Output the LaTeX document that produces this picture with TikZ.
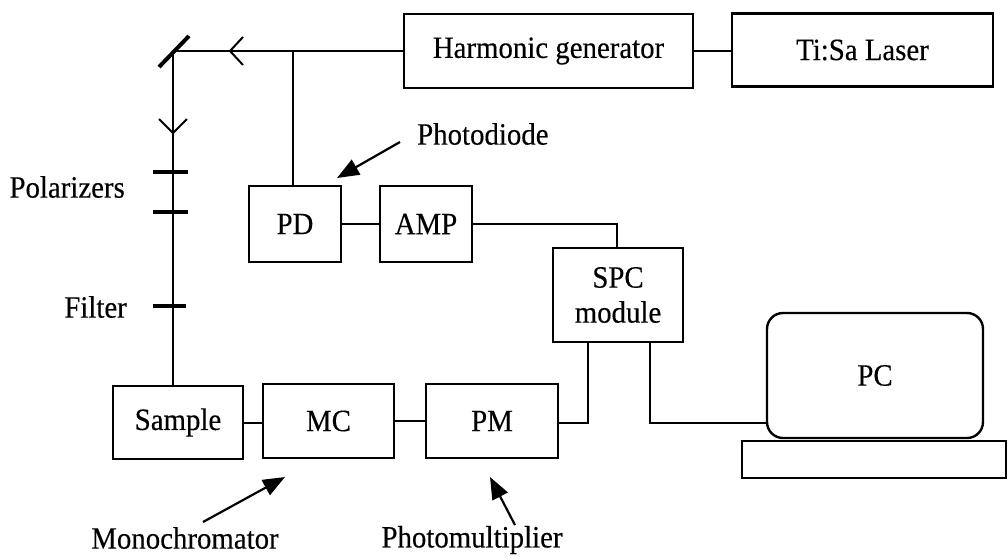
\documentclass[tikz,border=0pt]{standalone}
\usepackage{fontspec}
\setmainfont{Liberation Serif}[FakeStretch=0.93,FakeBold=0.3]
\usetikzlibrary{arrows.meta,calc}
\newcommand\dfont{\fontsize{31}{35}\selectfont}
\begin{document}
\begin{tikzpicture}[x=1pt,y=-1pt,
  box/.style={draw,line width=2.4pt,inner sep=0pt,font=\dfont,align=center},
  wire/.style={line width=2pt},
  bar/.style={line width=4pt},
  pointer/.style={line width=2.2pt,-{Triangle[length=22pt,width=17pt]}},
  lbl/.style={inner sep=0pt,font=\dfont}]
\fill[white] (0,0) rectangle (1008,558);
\useasboundingbox (0,0) rectangle (1008,558);

% boxes
\node[box,minimum width=289pt,minimum height=74pt] (harm) at (548.5,51) {Harmonic generator};
\node[box,minimum width=261pt,minimum height=73pt] (tisa) at (862.5,50) {Ti:Sa Laser};
\node[box,minimum width=92pt,minimum height=76pt] (pd) at (295,224) {PD};
\node[box,minimum width=92pt,minimum height=76pt] (amp) at (426,224) {AMP};
\node[box,minimum width=130pt,minimum height=94pt] (spc) at (618,295) {SPC\\module};
\node[box,minimum width=130pt,minimum height=73pt] (sample) at (178,422.5) {Sample};
\node[box,minimum width=131pt,minimum height=74pt] (mc) at (328.5,421) {MC};
\node[box,minimum width=132pt,minimum height=74pt] (pm) at (492,421) {PM};
\node[box,minimum width=216pt,minimum height=125pt,rounded corners=16pt] (pc) at (875,375.5) {PC};
\node[draw,line width=2pt,minimum width=264pt,minimum height=37pt,inner sep=0pt] (table) at (874,459.5) {};

% coordinates
\coordinate (mir) at (173,51);
\coordinate (pdtap) at (293,51);
\coordinate (pcin) at (767,423);

% beam path
\draw[wire] (tisa.west |- harm.east) -- (harm.east);
\draw[wire] (harm.west) -- (mir);
\draw[wire] (mir) -- (mir |- sample.north);
\draw[wire] (pdtap) -- (pdtap |- pd.north);
\draw[line width=4pt] ($(mir)+(-14,16)$) -- ($(mir)+(16,-15)$);

% chevrons
\draw[wire] ($(mir)+(70,-14)$) -- ($(mir)+(57,0)$) -- ($(mir)+(70,14)$);
\draw[wire] ($(mir)+(-14,68)$) -- ($(mir)+(0,82)$) -- ($(mir)+(14,68)$);

% polarizers and filter
\draw[bar] ($(mir |- 0,172)+(-20,0)$) -- ($(mir |- 0,172)+(15,0)$);
\draw[bar] ($(mir |- 0,212)+(-20,0)$) -- ($(mir |- 0,212)+(15,0)$);
\draw[line width=3.5pt] ($(mir |- 0,306)+(-20,0)$) -- ($(mir |- 0,306)+(13,0)$);

% signal wires
\draw[wire] (pd.east) -- (amp.west);
\draw[wire] (amp.east) -| ($(spc.north)+(-1,0)$);
\draw[wire] (sample.east) -- (sample.east -| mc.west);
\draw[wire] (mc.east) -- (pm.west);
\draw[wire] ($(pm.east)+(0,2)$) -| ($(spc.south)+(-30,0)$);
\draw[wire] ($(spc.south)+(32,0)$) |- (pcin);

% labels
\node[lbl,anchor=east] (pollbl) at (125,187) {Polarizers};
\node[lbl,anchor=east] (filtlbl) at (127,307) {Filter};
\node[lbl,anchor=west] (pdlbl) at (417,134) {Photodiode};
\node[lbl] (mclbl) at (185,538) {Monochromator};
\node[lbl] (pmlbl) at (472,540) {Photomultiplier};

\coordinate (pdtail) at (400,142);
\coordinate (pdtip) at (337,178);
\coordinate (mctail) at (203,522);
\coordinate (mctip) at (285,477);
\coordinate (pmtail) at (515,525);
\coordinate (pmtip) at (490,477);
\draw[pointer] (pdtail) -- (pdtip);
\draw[pointer] (mctail) -- (mctip);
\draw[pointer] (pmtail) -- (pmtip);
\end{tikzpicture}
\end{document}
